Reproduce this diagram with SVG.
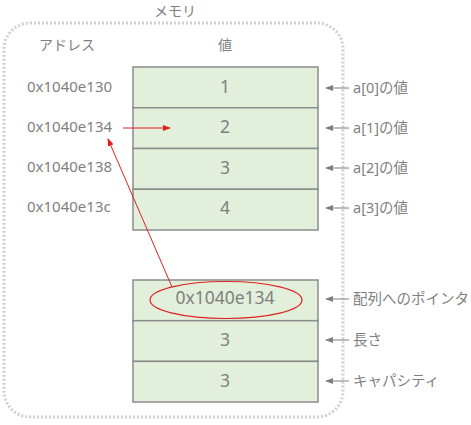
<svg xmlns="http://www.w3.org/2000/svg" width="471" height="425" viewBox="0 0 471 425">
<defs>
<style>
text{font-family:"Noto Sans","Noto Sans CJK JP",sans-serif;fill:#7f7f7f}
.cell{fill:#e2efda;stroke:#8c8c8c;stroke-width:1.5}
.addr{font-size:15px}
.val{font-size:17.5px;text-anchor:middle}
.lbl{font-size:14.5px}
.garr{stroke:#7f7f7f;stroke-width:1;fill:none;marker-end:url(#ga)}
.rarr{stroke:#e02020;stroke-width:1;fill:none;marker-end:url(#ra)}
</style>
<marker id="ga" markerWidth="8" markerHeight="6" refX="7" refY="3" orient="auto" markerUnits="userSpaceOnUse"><path d="M0,0 L8,3 L0,6 z" fill="#7f7f7f"/></marker>
<marker id="ra" markerWidth="8" markerHeight="6" refX="7" refY="3" orient="auto" markerUnits="userSpaceOnUse"><path d="M0,0 L8,3 L0,6 z" fill="#e02020"/></marker>
</defs>
<rect id="memory" x="4" y="23" width="339" height="394" rx="26" fill="none" stroke="#d0d0d0" stroke-width="3" stroke-dasharray="2 2"/>
<text x="175" y="16" text-anchor="middle" font-size="14">メモリ</text>
<text x="67" y="50" text-anchor="middle" font-size="14">アドレス</text>
<text x="225" y="50" text-anchor="middle" font-size="14">値</text>
<g id="array">
<rect class="cell" x="133" y="67" width="185" height="40.75"/>
<rect class="cell" x="133" y="107.75" width="185" height="40.75"/>
<rect class="cell" x="133" y="148.5" width="185" height="40.75"/>
<rect class="cell" x="133" y="189.25" width="185" height="40.75"/>
<text class="val" x="225" y="93">1</text>
<text class="val" x="225" y="133">2</text>
<text class="val" x="225" y="174">3</text>
<text class="val" x="225" y="214">4</text>
</g>
<g id="addresses">
<text class="addr" x="27" y="92">0x1040e130</text>
<text class="addr" x="27" y="132">0x1040e134</text>
<text class="addr" x="27" y="172">0x1040e138</text>
<text class="addr" x="27" y="212">0x1040e13c</text>
</g>
<g id="slice">
<rect class="cell" x="133" y="280" width="185" height="40.7"/>
<rect class="cell" x="133" y="320.7" width="185" height="40.7"/>
<rect class="cell" x="133" y="361.4" width="185" height="40.6"/>
<text class="val" x="225" y="304">0x1040e134</text>
<text class="val" x="225" y="346">3</text>
<text class="val" x="225" y="387">3</text>
<ellipse cx="226" cy="300" rx="76" ry="18.5" fill="none" stroke="#e02020" stroke-width="1.2"/>
</g>
<g id="labels">
<text class="lbl" x="353" y="93">a[0]の値</text>
<text class="lbl" x="353" y="133">a[1]の値</text>
<text class="lbl" x="353" y="173">a[2]の値</text>
<text class="lbl" x="353" y="213">a[3]の値</text>
<text class="lbl" x="353" y="304">配列へのポインタ</text>
<text class="lbl" x="353" y="345">長さ</text>
<text class="lbl" x="353" y="386">キャパシティ</text>
</g>
<g id="connectors">
<line class="garr" x1="349" y1="88" x2="326" y2="88"/>
<line class="garr" x1="349" y1="128" x2="326" y2="128"/>
<line class="garr" x1="349" y1="168" x2="326" y2="168"/>
<line class="garr" x1="349" y1="208" x2="326" y2="208"/>
<line class="garr" x1="349" y1="299" x2="326" y2="299"/>
<line class="garr" x1="349" y1="340" x2="326" y2="340"/>
<line class="garr" x1="349" y1="381" x2="326" y2="381"/>
<line class="rarr" x1="123" y1="128" x2="170" y2="128"/>
<line class="rarr" x1="172" y1="287" x2="108" y2="139"/>
</g>
</svg>
